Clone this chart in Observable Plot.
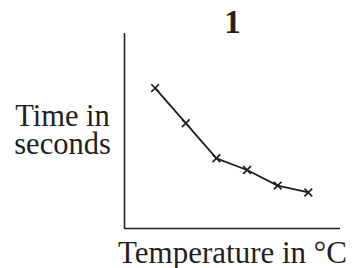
<!DOCTYPE html>
<html>
<head>
<meta charset="utf-8">
<script src="https://cdn.jsdelivr.net/npm/d3@7"></script>
<script src="https://cdn.jsdelivr.net/npm/@observablehq/plot@0.6"></script>
<style>
  html, body { margin: 0; padding: 0; background: #fff; }
</style>
</head>
<body>
<div id="chart"></div>
<script>
const temperatures = [1, 2, 3, 4, 5, 6];
const times = [72, 54, 36, 30, 22, 18.5];
const titleText = "1";
const yLabelLines = ["Time in", "seconds"];
const xLabel = "Temperature in °C";

const data = temperatures.map((t, i) => ({temp: t, time: times[i]}));
const font = "'Liberation Serif', 'Times New Roman', serif";

const chart = Plot.plot({
  width: 352,
  height: 268,
  marginLeft: 124,
  marginRight: 12,
  marginTop: 33,
  marginBottom: 40,
  style: {fontFamily: font, background: "#fff", color: "#231f20"},
  x: {domain: [0, 7.05], axis: null},
  y: {domain: [0, 100], axis: null},
  marks: [
    Plot.ruleX([0], {stroke: "#231f20", strokeWidth: 1.6}),
    Plot.ruleY([0], {stroke: "#231f20", strokeWidth: 1.6}),
    Plot.line(data, {x: "temp", y: "time", stroke: "#231f20", strokeWidth: 1.8}),
    Plot.dot(data, {x: "temp", y: "time", symbol: "times", r: 3.6, stroke: "#231f20", strokeWidth: 1.7}),
    Plot.text([titleText], {frameAnchor: "top", lineAnchor: "bottom", dy: -1, fontSize: 33, fontWeight: "bold", fill: "#231f20"}),
    Plot.text([yLabelLines[0]], {frameAnchor: "left", textAnchor: "middle", lineAnchor: "bottom", dx: -62, dy: -5.5, fontSize: 30.5, fill: "#231f20"}),
    Plot.text([yLabelLines[1]], {frameAnchor: "left", textAnchor: "middle", lineAnchor: "bottom", dx: -62, dy: 22.5, fontSize: 30.5, fill: "#231f20"}),
    Plot.text([xLabel], {frameAnchor: "bottom", textAnchor: "middle", lineAnchor: "bottom", dx: 0, dy: 34, fontSize: 31, fill: "#231f20"})
  ]
});
document.getElementById("chart").appendChild(chart);
</script>
</body>
</html>
